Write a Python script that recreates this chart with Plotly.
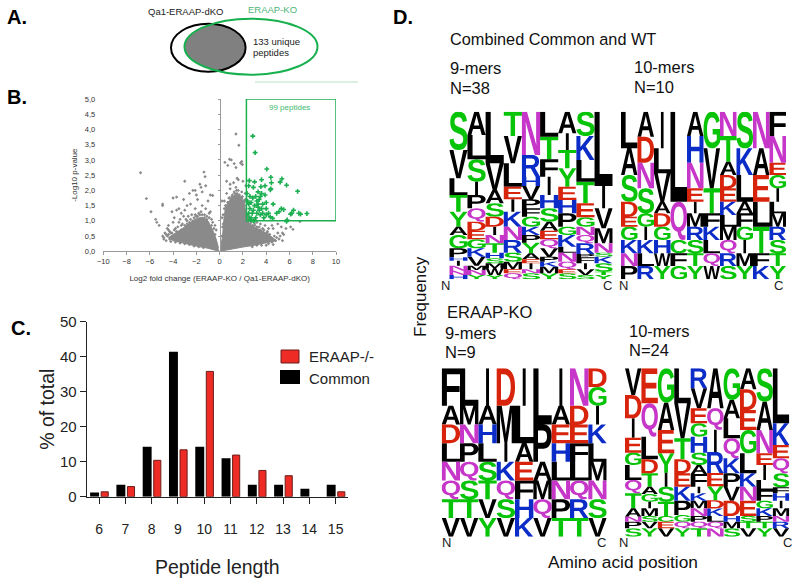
import glob, struct
import numpy as np
import plotly.graph_objects as go

W, H = 800, 584
FONT = "Liberation Sans, Arial, sans-serif"

# ---------- panel B data ----------
vol_green_x = [2.85,3.05,4.05,2.55,3.0,3.6,4.4,5.35,5.2,5.75,6.7,4.45,4.4,4.35,3.9,3.55,2.9,2.5,2.35,3.3,3.6,3.5,3.1,2.85,2.7,3.9,4.0,3.2,3.4,2.5,2.4,3.0,3.3,3.7,4.6,2.6,2.9,3.6,4.0,5.3,5.5,5.1,4.9,6.35,6.2,6.1,6.8,6.95,7.5,4.2,3.7,3.2,2.8,2.5,2.4,2.7,3.1,3.5,4.0,4.35,4.55,3.0,2.45,2.7,2.9,5.8,5.75,2.6,3.3,2.55,3.8,3.4]
vol_green_y = [3.78,3.24,2.7,2.32,2.28,2.35,2.43,2.38,2.27,2.17,1.97,2.25,2.05,2.02,2.15,2.12,2.1,2.15,1.9,1.95,1.9,1.8,1.8,1.75,1.6,1.85,1.6,1.65,1.7,1.55,1.65,1.5,1.45,1.55,1.55,1.4,1.35,1.4,1.4,1.4,1.37,1.3,1.25,1.35,1.25,1.22,1.25,1.22,1.24,1.25,1.25,1.25,1.25,1.25,1.15,1.1,1.1,1.2,1.2,1.13,1.08,1.02,1.02,1.03,1.0,1.03,0.98,1.8,1.55,1.05,1.1,1.35]
vol_gray_x = [-6.8,-6.3,-5.9,-5.5,-5.4,-5.2,-4.9,-4.9,-4.9,-4.8,-4.7,-4.5,-4.4,-4.3,-4.0,-3.7,-4.1,-3.9,-3.7,-3.5,-3.3,-3.5,-3.0,-3.1,-3.0,-2.8,-3.1,-2.6,-2.5,-2.3,-2.1,-2.0,-1.9,-1.7,-1.6,-1.5,-1.35,-1.25,-1.2,-1.0,-0.8,-0.6,-0.9,-0.8,-1.2,-1.5,-2.1,-1.6,-2.4,-2.2,-0.4,-0.3,-2.8,-3.3,-3.8,-4.2,-4.6,-1.8,-1.3,-0.7,-2.7,-2.0,-1.1,-3.4,-4.0,-4.4,
 1.4,1.65,0.85,1.0,0.45,0.7,1.25,1.4,1.8,1.9,1.95,1.5,1.6,0.6,0.9,1.2,1.4,2.0,2.2,0.6,0.4,0.2,0.9,1.6,1.9,2.25,2.2,2.1,0.5,0.2,0.3,2.3,4.5,5.0,5.3,5.7,6.1,6.3,6.9,5.4,5.0,4.7,4.4,4.6,4.2,3.9,3.5,3.2,4.5,4.0,0.8,1.1,1.3,1.7,1.9,2.1,3.0,3.4,3.7,4.1,4.9,5.2,5.5,2.7,1.0,0.7,1.5,1.8,2.0,
 -4.8,-4.6,-4.5,-4.3,-4.1,-4.4,-3.9,-3.7,-3.6,-3.3,-3.2,-3.0,-2.8,-2.6,-2.9,-2.5,-2.3,-2.1,-1.9,-1.7,-1.5,-1.3,-1.1,-0.9,-0.7,-0.5,-0.4,-0.6,-4.2,-3.8,-3.4,-3.0,-2.6,-2.2,-1.8,-1.4,
 0.2,0.25,0.3,0.4,0.55,0.75,0.85,1.05,1.25,1.45,1.7,1.95,2.15,2.25,2.4,2.6,2.8,3.0,3.2,3.5,3.8,4.1,4.3,4.8,5.1,5.4,4.6,4.2,3.6,3.2,2.8]
vol_gray_y = [2.58,1.73,1.3,1.05,0.95,0.85,1.55,1.5,0.5,0.4,0.6,0.75,0.85,0.65,1.75,1.78,1.3,1.1,1.35,1.4,1.25,0.95,2.3,1.7,1.35,1.5,1.15,1.9,1.55,2.0,2.0,1.85,1.7,2.2,2.1,1.95,2.6,2.45,2.15,1.65,1.85,1.83,1.25,1.3,1.4,1.5,1.4,1.3,1.2,1.1,0.85,0.7,1.0,0.85,0.75,0.6,0.55,1.25,1.2,1.05,1.15,1.15,1.15,1.05,0.95,0.7,
 3.85,3.48,3.02,3.0,2.92,2.82,2.88,2.75,2.9,2.95,2.85,2.4,2.35,2.3,2.2,2.25,2.1,2.3,1.9,1.9,1.65,1.65,2.05,2.0,1.95,2.15,1.7,1.6,1.5,1.1,0.9,0.98,0.85,0.9,0.8,0.75,0.8,0.72,0.98,0.6,0.6,0.5,0.45,0.75,0.75,0.85,0.9,0.95,0.3,0.2,1.75,1.85,1.9,1.8,1.75,1.65,0.9,0.8,0.75,0.6,0.45,0.5,0.55,0.95,1.7,1.6,1.9,1.7,1.5,
 0.45,0.35,0.5,0.4,0.6,0.55,0.7,0.65,0.8,0.7,0.9,0.85,0.9,0.95,1.05,1.05,1.0,1.2,1.15,1.2,1.2,1.1,1.05,1.1,0.85,0.75,0.55,0.95,0.32,0.3,0.27,0.25,0.22,0.17,0.15,0.12,
 0.5,0.8,1.2,1.4,1.5,1.6,1.75,1.8,1.95,2.0,1.85,1.8,1.5,1.3,0.95,0.9,0.85,0.85,0.8,0.7,0.7,0.65,0.55,0.35,0.4,0.35,0.22,0.25,0.2,0.2,0.15]
cloud_left_x = [-0.05,-1.0,-2.0,-3.0,-4.0,-4.4,-4.0,-3.5,-3.0,-2.5,-2.0,-1.5,-1.0,-0.6,-0.3,-0.1]
cloud_left_y = [0.0,0.1,0.17,0.27,0.35,0.45,0.55,0.65,0.8,0.95,1.08,1.12,1.0,0.7,0.4,0.12]
cloud_right_x = [0.0,1.0,2.0,3.0,4.0,4.9,4.0,3.0,2.5,2.3,2.0,1.5,1.0,0.5,0.35,0.25,0.1]
cloud_right_y = [0.0,0.08,0.14,0.2,0.27,0.35,0.6,0.8,0.9,1.25,1.7,1.9,1.75,1.45,1.0,0.5,0.15]
box_x = [2.3, 10.0]
box_y = [1.0, 5.0]
vol_xticks = [-10,-8,-6,-4,-2,0,2,4,6,8,10]
vol_yticks = [0,0.5,1,1.5,2,2.5,3,3.5,4,4.5,5]
vol_ylabels = ["0,0","0,5","1,0","1,5","2,0","2,5","3,0","3,5","4,0","4,5","5,0"]

# ---------- panel C data ----------
lengths = [6,7,8,9,10,11,12,13,14,15]
common = [1.2,3.4,14.3,41.4,14.3,11.0,3.4,3.4,2.3,3.4]
eraap = [1.4,2.9,10.4,13.4,35.8,11.9,7.5,6.0,None,1.4]

# ---------- panel D data: letters top to bottom, relative stack heights ----------
tl_letters = ["SVLTYAGPHINNH","ALSIPQDEGKVMNY","LVASDINTHSMWY","TVLEIKNRSMEQ","NRHVPFGKPYAEINS","LTFIHSAEQVPKMY","AITYEHPGKLNQES","SKLTEGNQRPFIVS","LIVMNSKSTY"]
tl_heights = [[115,85,50,50,45,25,40,27,10,15,15,13,13],[70,73,67,40,40,40,27,26,27,25,27,13,15,13],[155,80,40,40,30,25,25,28,17,15,15,20,13],[73,82,70,38,37,45,40,38,27,23,12,18],[130,65,28,40,27,25,30,25,23,32,18,12,18,12,18],[75,68,52,55,40,40,27,26,27,25,15,15,20,18],[65,50,55,55,40,40,40,25,35,18,27,23,12,18],[73,72,65,65,42,28,25,25,32,10,18,18,17,13],[223,67,60,45,28,12,20,25,10,13]]
tr_letters = ["LASDEGKNP","ADNSGIKLR","ILVADGHWY","LQCFG","AHNEIMRSTY","GVTFKLQW","NTADEKLMQRS","SKLAFGIMY","NAELTFK","FNEGILMRSTY"]
tr_heights = [[110,80,80,45,30,40,40,38,40],[75,78,77,75,40,40,40,38,40],[110,75,85,35,40,40,40,38,40],[270,115,40,38,40],[73,80,77,40,35,40,40,40,38,40],[110,120,75,40,40,40,38,40],[73,77,40,40,40,40,35,40,40,38,40],[110,80,80,35,40,40,40,38,40],[110,80,80,75,80,38,40],[73,80,37,40,40,35,40,40,40,38,40]]
bl_letters = ["FADLNQTV","LMNPQSTV","IAHLSTVY","DMIKQSV","ILAEFHK","LPAMQV","IAEHLNPT","NDEFLQRT","DGIKLMNSV"]
bl_heights = [[2,1,1,1,1,1,1,1],[2,1,1,1,1,1,1,1],[2,1,1,1,1,1,1,1],[2,2,1,1,1,1,1],[2,2,1,1,1,1,1],[3,2,1,1,1,1],[2,1,1,1,1,1,1,1],[2,1,1,1,1,1,1,1],[1,1,1,1,1,1,1,1,1]]
br_letters = ["VDIEGLQTANPS","EQLDTAGIMSVY","GAEYISTCEV","LVTDEKPGQY","RVEGHSAFIKMNPQT","AQIREYDKLQN","GALQKPVDHMS","ADEGLKNESTV","SANEILFGKPTY","LKEQSFHIMNRV"]
br_heights = [[80,70,58,45,37,45,40,45,25,15,20,25],[105,100,68,42,40,22,23,20,23,17,20,25],[103,82,70,58,42,45,43,17,20,25],[105,105,63,42,40,42,43,20,20,25],[60,60,45,40,48,37,27,38,20,22,23,23,17,20,25],[120,65,67,63,40,42,25,23,17,20,25],[95,55,60,60,45,40,42,46,17,20,25],[63,62,60,70,60,40,42,46,17,20,25],[100,85,70,35,45,30,32,23,23,17,20,25],[165,65,40,45,42,18,22,23,23,17,20,25]]

LETTER_COLORS = {"#08C408":"STGYC", "#000000":"LAVIPMFW", "#D8240C":"DE", "#0C2CC8":"HKR", "#C636C8":"NQ"}

# ---------- glyph outlines from the installed font ----------
def load_glyphs(chars):
    path = (glob.glob("/usr/share/fonts/**/LiberationSans-Bold.ttf", recursive=True) +
            glob.glob("/usr/**/LiberationSans-Bold.ttf", recursive=True))[0]
    d = open(path, "rb").read()
    nt = struct.unpack(">H", d[4:6])[0]
    tb = {}
    for i in range(nt):
        tag, _, off, ln = struct.unpack(">4sIII", d[12+16*i:28+16*i])
        tb[tag.decode()] = off
    long_loca = struct.unpack(">h", d[tb["head"]+50:tb["head"]+52])[0]
    c = tb["cmap"]
    n = struct.unpack(">H", d[c+2:c+4])[0]
    sub = None
    for i in range(n):
        pid, eid, off = struct.unpack(">HHI", d[c+4+8*i:c+12+8*i])
        if struct.unpack(">H", d[c+off:c+off+2])[0] == 4:
            sub = c+off
    segx2 = struct.unpack(">H", d[sub+6:sub+8])[0]
    seg = segx2//2
    u = lambda o: struct.unpack(">H", d[o:o+2])[0]
    s = lambda o: struct.unpack(">h", d[o:o+2])[0]
    def gid(ch):
        code = ord(ch)
        for i in range(seg):
            end = u(sub+14+2*i)
            if code <= end:
                start = u(sub+16+segx2+2*i)
                delta = u(sub+16+2*segx2+2*i)
                roff_p = sub+16+3*segx2+2*i
                roff = u(roff_p)
                if roff == 0:
                    return (code+delta) & 0xFFFF
                return (u(roff_p+roff+2*(code-start))+delta) & 0xFFFF
    out = {}
    for ch in chars:
        g = gid(ch)
        if long_loca:
            a = struct.unpack(">I", d[tb["loca"]+4*g:tb["loca"]+4*g+4])[0]
        else:
            a = 2*u(tb["loca"]+2*g)
        p = tb["glyf"]+a
        nc = s(p)
        ends = [u(p+10+2*i) for i in range(nc)]
        q = p+10+2*nc
        q += 2+u(q)
        npts = ends[-1]+1
        flags = []
        while len(flags) < npts:
            fl = d[q]; q += 1
            flags.append(fl)
            if fl & 8:
                flags += [fl]*d[q]; q += 1
        xs, v = [], 0
        for fl in flags:
            if fl & 2:
                v += d[q] if fl & 16 else -d[q]; q += 1
            elif not fl & 16:
                v += s(q); q += 2
            xs.append(v)
        ys, v = [], 0
        for fl in flags:
            if fl & 4:
                v += d[q] if fl & 32 else -d[q]; q += 1
            elif not fl & 32:
                v += s(q); q += 2
            ys.append(v)
        contours, st = [], 0
        for e in ends:
            pts = [(xs[i], ys[i], flags[i] & 1) for i in range(st, e+1)]
            st = e+1
            full = []
            for i, pt in enumerate(pts):
                nx = pts[(i+1) % len(pts)]
                full.append(pt)
                if not pt[2] and not nx[2]:
                    full.append(((pt[0]+nx[0])/2, (pt[1]+nx[1])/2, 1))
            k = next(i for i, pt in enumerate(full) if pt[2])
            full = full[k:]+full[:k]
            poly = []
            i = 0
            while i < len(full):
                a0 = full[i]
                b0 = full[(i+1) % len(full)]
                if b0[2]:
                    poly.append((a0[0], a0[1])); i += 1
                else:
                    c0 = full[(i+2) % len(full)]
                    for t in (0, .25, .5, .75):
                        poly.append(((1-t)**2*a0[0]+2*t*(1-t)*b0[0]+t*t*c0[0],
                                     (1-t)**2*a0[1]+2*t*(1-t)*b0[1]+t*t*c0[1]))
                    i += 2
            poly.append(poly[0])
            contours.append(poly)
        ax = [x for cc in contours for x, _ in cc]
        ay = [y for cc in contours for _, y in cc]
        x0, x1, y0, y1 = min(ax), max(ax), min(ay), max(ay)
        out[ch] = [[((x-x0)/(x1-x0), (y-y0)/(y1-y0)) for x, y in cc] for cc in contours]
    return out

ALL_LETTERS = "".join(LETTER_COLORS.values())
GLYPHS = load_glyphs(ALL_LETTERS)

def dom(a, b, size):
    return [a/size, b/size]
def ydom(top, bottom):
    return [1-bottom/H, 1-top/H]

fig = go.Figure()

# ---------- volcano ----------
fig.add_trace(go.Scatter(x=cloud_left_x, y=cloud_left_y, mode="lines", fill="toself", fillcolor="#8a8a8a", line=dict(width=1, color="#8a8a8a"), xaxis="x", yaxis="y2", hoverinfo="skip"))
fig.add_trace(go.Scatter(x=cloud_right_x, y=cloud_right_y, mode="lines", fill="toself", fillcolor="#8a8a8a", line=dict(width=1, color="#8a8a8a"), xaxis="x", yaxis="y2", hoverinfo="skip"))
fig.add_trace(go.Scatter(x=vol_gray_x, y=vol_gray_y, mode="markers", marker=dict(size=2.6, color="#8a8a8a", symbol="diamond"), xaxis="x", yaxis="y", name="other"))
fig.add_trace(go.Scatter(x=vol_green_x, y=vol_green_y, mode="markers", marker=dict(size=4, color="#1CAF50", symbol="cross"), xaxis="x", yaxis="y", name="99 peptides"))

# ---------- bars ----------
fig.add_trace(go.Bar(x=lengths, y=common, width=0.34, offset=-0.34, marker=dict(color="#000000", line=dict(width=0)), xaxis="x3", yaxis="y3", name="Common"))
fig.add_trace(go.Bar(x=lengths, y=eraap, width=0.27, offset=0.08, marker=dict(color="#EE2B24", line=dict(width=1, color="#6a1f1c")), xaxis="x3", yaxis="y3", name="ERAAP-/-"))

# ---------- logos ----------
def add_logo(letters, heights, xa, ya):
    by_color = {c: ([], []) for c in LETTER_COLORS}
    for pos, (col, hs) in enumerate(zip(letters, heights), start=1):
        total = sum(hs)
        top = 1.0
        for ch, h in zip(col, hs):
            f = h/total
            color = next(c for c, s in LETTER_COLORS.items() if ch in s)
            half = 0.08 if ch == "I" else 0.5
            xs, ys = by_color[color]
            for cc in GLYPHS[ch]:
                for gx, gy in cc:
                    xs.append(pos-half+2*half*gx)
                    ys.append(top-f+f*gy)
                xs.append(None); ys.append(None)
            top -= f
    for c, (xs, ys) in by_color.items():
        fig.add_trace(go.Scatter(x=xs, y=ys, mode="lines", fill="toself", fillcolor=c,
                                 line=dict(width=0, color=c, simplify=False), xaxis=xa, yaxis=ya,
                                 hoverinfo="skip"))

add_logo(tl_letters, tl_heights, "x4", "y4")
add_logo(tr_letters, tr_heights, "x5", "y5")
add_logo(bl_letters, bl_heights, "x6", "y6")
add_logo(br_letters, br_heights, "x7", "y7")

def hidden(domain, rng, anchor):
    return dict(domain=domain, range=rng, visible=False, fixedrange=True, anchor=anchor, automargin=False)

layout = dict(
    width=W, height=H, margin=dict(l=0, r=0, t=0, b=0, pad=0), autosize=False,
    paper_bgcolor="white", plot_bgcolor="white", showlegend=False, barmode="overlay",
    font=dict(family=FONT, color="#111111"),
    xaxis=dict(domain=dom(103.3, 336, W), range=[-10, 10], anchor="y", tickvals=vol_xticks, automargin=False,
               showgrid=False, zeroline=False, showline=True, linecolor="#9a9a9a", linewidth=1,
               ticks="outside", ticklen=3, tickcolor="#9a9a9a", tickfont=dict(size=7.5, color="#333333"),
               title=dict(text="Log2 fold change (ERAAP-KO / Qa1-ERAAP-dKO)", font=dict(size=8, color="#333333"), standoff=10)),
    yaxis=dict(domain=ydom(99, 251.3), range=[0, 5], anchor="x", tickvals=vol_yticks, ticktext=vol_ylabels, automargin=False,
               showgrid=False, zeroline=False, showline=False, ticks="", ticklabelstandoff=7,
               tickfont=dict(size=7.5, color="#333333"),
               title=dict(text="-Log10 p-value", font=dict(size=8, color="#333333"), standoff=6)),
    yaxis2=dict(domain=ydom(99, 251.3), range=[0, 5], overlaying="y", anchor="free", position=219.65/W, automargin=False,
                tickvals=vol_yticks, showticklabels=False, showgrid=False, zeroline=False,
                showline=True, linecolor="#9a9a9a", linewidth=1, ticks="outside", ticklen=2, tickcolor="#9a9a9a"),
    xaxis3=dict(domain=dom(86.7, 348, W), range=[5.53, 15.47], anchor="y3", tickvals=lengths, automargin=False,
                showgrid=False, zeroline=False, showline=True, linecolor="#222222", linewidth=1,
                ticks="outside", ticklen=6, tickcolor="#222222", ticklabelstandoff=13,
                tickfont=dict(size=14, color="#222222"),
                title=dict(text="Peptide length", font=dict(size=19.5, color="#222222"), standoff=24)),
    yaxis3=dict(domain=ydom(321.7, 496.7), range=[0, 50], anchor="x3", tickvals=[0,10,20,30,40,50], automargin=False,
                showgrid=False, zeroline=False, showline=True, linecolor="#222222", linewidth=1,
                ticks="outside", ticklen=6, tickcolor="#222222", tickfont=dict(size=15, color="#222222"),
                title=dict(text="% of total", font=dict(size=19.5, color="#222222"), standoff=0)),
    xaxis4=hidden(dom(449.3, 612.7, W), [0.5, 9.5], "y4"), yaxis4=hidden(ydom(111.7, 279.3), [0, 1], "x4"),
    xaxis5=hidden(dom(621, 786, W), [0.5, 10.5], "y5"), yaxis5=hidden(ydom(111.7, 279.3), [0, 1], "x5"),
    xaxis6=hidden(dom(441.7, 606.7, W), [0.5, 9.5], "y6"), yaxis6=hidden(ydom(368.3, 536.7), [0, 1], "x6"),
    xaxis7=hidden(dom(625, 789.3, W), [0.5, 10.5], "y7"), yaxis7=hidden(ydom(368.3, 536.7), [0, 1], "x7"),
)
fig.update_layout(**layout)

# ---------- annotations ----------
def label(x, y, text, size, color="#111111", anchor="left", bold=False, angle=0):
    fig.add_annotation(x=x/W, y=1-y/H, xref="paper", yref="paper", text=f"<b>{text}</b>" if bold else text,
                       showarrow=False, xanchor=anchor, yanchor="middle", textangle=angle,
                       font=dict(size=size, color=color, family=FONT), borderpad=0)

label(6, 17, "A.", 20, "#000000", bold=True)
label(6, 97, "B.", 20, "#000000", bold=True)
label(10, 328, "C.", 20, "#000000", bold=True)
label(392, 17, "D.", 20, "#000000", bold=True)
label(186, 11, "Qa1-ERAAP-dKO", 9.5, "#222222", "center")
label(272, 10, "ERAAP-KO", 9.5, "#4DB577", "center")
label(252, 42, "133 unique", 9.5, "#222222")
label(252, 53, "peptides", 9.5, "#222222")
label(289, 108, "99 peptides", 8, "#3DBB6C", "center")
label(449, 39, "Combined Common and WT", 16.3)
label(449, 68, "9-mers", 16.5)
label(449, 88, "N=38", 16.5)
label(633, 67, "10-mers", 16.5)
label(633, 87, "N=10", 16.5)
label(446, 312, "ERAAP-KO", 16.5)
label(444, 333, "9-mers", 16.5)
label(444, 352, "N=9", 16.5)
label(628, 331, "10-mers", 16.5)
label(628, 350, "N=24", 16.5)
label(420, 297, "Frequency", 17, "#111111", "center", angle=-90)
label(623, 562, "Amino acid position", 17.3, "#111111", "center")
for x, y, t in [(445,285,"N"),(607,285,"C"),(623,285,"N"),(778,285,"C"),(446,542,"N"),(601,542,"C"),(623,542,"N"),(787,542,"C")]:
    label(x, y, t, 13, "#222222", "center")
label(308, 357, "ERAAP-/-", 15, "#222222")
label(308, 378, "Common", 15, "#222222")

# ---------- shapes ----------
def rect_px(x0, y0, x1, y1, **kw):
    fig.add_shape(type="rect", xref="paper", yref="paper", x0=x0/W, x1=x1/W, y0=1-y0/H, y1=1-y1/H, **kw)

rect_px(281, 350, 299, 363, fillcolor="#EE2B24", line=dict(color="#6a1f1c", width=1))
rect_px(280, 370, 300, 384, fillcolor="#000000", line=dict(width=0))
fig.add_shape(type="rect", xref="x", yref="y", x0=box_x[0], x1=box_x[1], y0=box_y[0], y1=box_y[1],
              line=dict(color="#1CAF50", width=1.5), layer="above")
fig.add_shape(type="line", xref="paper", yref="paper", x0=255/W, x1=358/W, y0=1-82/H, y1=1-82/H,
              line=dict(color="#B5E3C6", width=1))

# Venn
bc, bry = (208.3, 47.7), (37.3, 24)
gc, gry = (251, 46.7), (66.5, 28)
t = np.linspace(0, 2*np.pi, 361)
bx, by = bc[0]+bry[0]*np.cos(t), bc[1]+bry[1]*np.sin(t)
gx, gy = gc[0]+gry[0]*np.cos(t), gc[1]+gry[1]*np.sin(t)
in_g = ((bx-gc[0])/gry[0])**2+((by-gc[1])/gry[1])**2 <= 1
in_b = ((gx-bc[0])/bry[0])**2+((gy-bc[1])/bry[1])**2 <= 1
px = np.r_[bx[in_g], gx[in_b]]
py = np.r_[by[in_g], gy[in_b]]
order = np.argsort(np.arctan2(py-py.mean(), px-px.mean()))
path = "M"+"L".join(f"{a/W:.5f},{1-b/H:.5f}" for a, b in zip(px[order], py[order]))+"Z"
fig.add_shape(type="path", xref="paper", yref="paper", path=path, fillcolor="#808080", line=dict(width=0))
fig.add_shape(type="circle", xref="paper", yref="paper", x0=(bc[0]-bry[0])/W, x1=(bc[0]+bry[0])/W,
              y0=1-(bc[1]-bry[1])/H, y1=1-(bc[1]+bry[1])/H, line=dict(color="#000000", width=2))
fig.add_shape(type="circle", xref="paper", yref="paper", x0=(gc[0]-gry[0])/W, x1=(gc[0]+gry[0])/W,
              y0=1-(gc[1]-gry[1])/H, y1=1-(gc[1]+gry[1])/H, line=dict(color="#16B04E", width=2))

fig.write_html("out.html", config={"displayModeBar": False}, post_script="document.body.style.margin='0';")
